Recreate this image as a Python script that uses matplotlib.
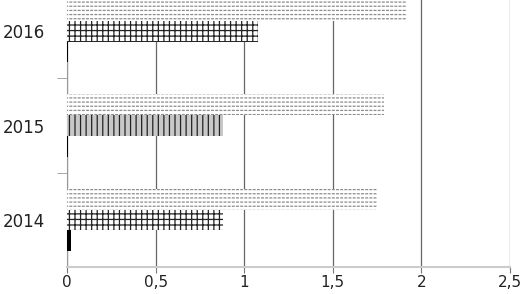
import numpy as np
import matplotlib.pyplot as plt

years = ["2014", "2015", "2016"]
series_top = [1.75, 1.79, 1.92]     # light dashed bars
series_mid = [0.88, 0.88, 1.08]     # brick bars
series_low = [0.025, 0.006, 0.006]  # black bars
x_ticks = [0, 0.5, 1, 1.5, 2, 2.5]
x_labels = ["0", "0,5", "1", "1,5", "2", "2,5"]

plt.rcParams["font.family"] = "DejaVu Sans"
plt.rcParams["hatch.linewidth"] = 0.9

fig = plt.figure(figsize=(5.25, 2.94), dpi=100)
ax = fig.add_axes([0.1276, 0.0918, 0.8438, 0.962])

y = np.arange(len(years))
h = 0.22

# light bars: grey rows broken into dashes by a white vertical hatch
ax.barh(y + h, series_top, height=h, color="white", edgecolor="#8c8c8c",
        hatch="----", linewidth=0, zorder=3)
ax.barh(y + h, series_top, height=h, color="none", edgecolor="white",
        hatch="||||", linewidth=0, zorder=4)
mid_faces = ["white", "#c8c8c8", "white"]
mid_hatch = ["+++", "|||", "+++"]
for i in range(len(years)):
    ax.barh(y[i], series_mid[i], height=h, color=mid_faces[i], edgecolor="#222222",
            hatch=mid_hatch[i], linewidth=0, zorder=3)
ax.barh(y - h, series_low, height=h, color="black", linewidth=0, zorder=3)

ax.set_xlim(0, 2.5)
ax.set_ylim(-0.5, 2.5)
ax.set_xticks(x_ticks)
ax.set_xticklabels(x_labels, fontsize=11, color="#222222")
ax.set_yticks(y)
ax.set_yticklabels(years, fontsize=12, color="#222222")
ax.set_yticks([0.5, 1.5], minor=True)
ax.tick_params(axis="y", which="major", length=0, pad=16)
ax.tick_params(axis="y", which="minor", length=7, color="#999999")
ax.tick_params(axis="x", length=4, color="#777777", pad=2)

ax.grid(axis="x", color="#666666", linewidth=0.9, zorder=1)
for s in ["top", "right"]:
    ax.spines[s].set_visible(False)
ax.spines["left"].set_color("#999999")
ax.spines["bottom"].set_color("#cccccc")
ax.spines["bottom"].set_linewidth(1.5)

fig.savefig("out.png", dpi=100)
